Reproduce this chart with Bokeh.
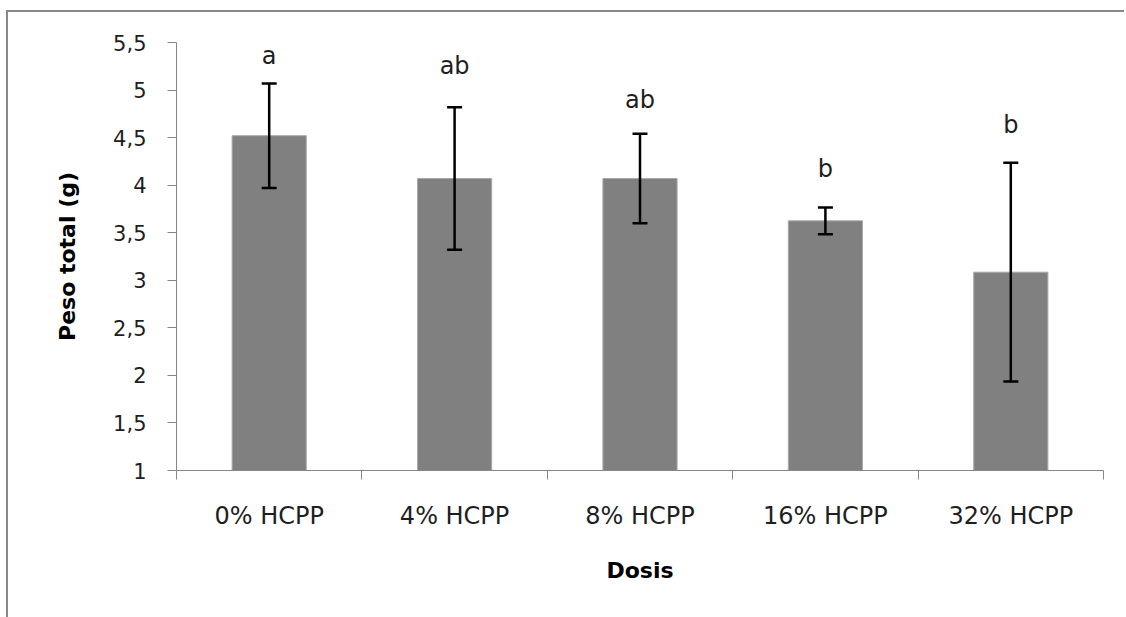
from bokeh.plotting import figure
from bokeh.models import Range1d, FixedTicker, ColumnDataSource, Whisker, TeeHead
from bokeh.core.properties import value
from bokeh.embed import file_html
from bokeh.resources import INLINE
import numpy as np

# Total weight per dose, with standard deviation and significance letters
categories = ["0% HCPP", "4% HCPP", "8% HCPP", "16% HCPP", "32% HCPP"]
means = [4.52, 4.07, 4.07, 3.625, 3.085]
errors = [0.55, 0.75, 0.47, 0.14, 1.15]
letters = ["a", "ab", "ab", "b", "b"]
letter_y = [5.27, 5.165, 4.81, 4.085, 4.545]

y_ticks = [1, 1.5, 2, 2.5, 3, 3.5, 4, 4.5, 5, 5.5]
y_tick_labels = ["1", "1,5", "2", "2,5", "3", "3,5", "4", "4,5", "5", "5,5"]

FONT = "DejaVu Sans"
AXIS_GREY = "#868686"
TEXT = "#1e1e1e"

x_pos = np.arange(len(categories)) + 0.5
src = ColumnDataSource(dict(
    x=x_pos,
    top=means,
    upper=np.array(means) + np.array(errors),
    lower=np.array(means) - np.array(errors),
    letter=letters,
    ly=letter_y,
))

# The chart area sits inside a frame whose left and top edges show
# (offset 6px / 10px, 2px grey line); the canvas starts just inside it.
p = figure(width=1118, height=609, output_backend="svg", toolbar_location=None,
           x_range=Range1d(0, len(categories)), y_range=Range1d(1, 5.5),
           min_border_left=168, min_border_right=23,
           min_border_top=30, min_border_bottom=151)
p.margin = (10, 0, 0, 6)
p.styles = {"border-left": "2px solid #888888", "border-top": "2px solid #888888"}
p.outline_line_color = None
p.grid.visible = False
p.background_fill_color = "white"
p.border_fill_color = "white"

# Bars start at the axis floor
p.vbar(x="x", top="top", bottom=1, width=0.4, source=src,
       fill_color="#808080", line_color="#a8a8a8", line_width=1)

# Error bars, drawn over the bars
whisk = Whisker(base="x", upper="upper", lower="lower", source=src,
                line_color="black", line_width=2.5, level="overlay",
                upper_head=TeeHead(size=15, line_width=2.5, line_color="black"),
                lower_head=TeeHead(size=15, line_width=2.5, line_color="black"))
p.add_layout(whisk)

# Significance letters
p.text(x="x", y="ly", text="letter", source=src, text_align="center",
       text_baseline="alphabetic", y_offset=-8, text_font=value(FONT),
       text_font_size="24px", text_color=TEXT)

# Y axis
ya = p.yaxis[0]
ya.ticker = FixedTicker(ticks=y_ticks, minor_ticks=[])
ya.major_label_overrides = {t: s for t, s in zip(y_ticks, y_tick_labels)}
ya.axis_line_color = AXIS_GREY
ya.major_tick_line_color = AXIS_GREY
ya.major_tick_out = 9
ya.major_tick_in = 0
ya.minor_tick_line_color = None
ya.major_label_standoff = 21
ya.major_label_text_font = FONT
ya.major_label_text_font_size = "21px"
ya.major_label_text_color = TEXT
ya.axis_label = "Peso total (g)"
ya.axis_label_text_font = FONT
ya.axis_label_text_font_style = "bold"
ya.axis_label_text_font_size = "22px"
ya.axis_label_text_color = "black"
ya.axis_label_standoff = 30

# X axis: labels at bar centres, ticks at category boundaries
xa = p.xaxis[0]
xa.ticker = FixedTicker(ticks=list(x_pos),
                        minor_ticks=list(range(len(categories) + 1)))
xa.major_label_overrides = {float(t): c for t, c in zip(x_pos, categories)}
xa.axis_line_color = AXIS_GREY
xa.major_tick_line_color = None
xa.major_tick_out = 0
xa.major_tick_in = 0
xa.minor_tick_line_color = AXIS_GREY
xa.minor_tick_out = 9
xa.minor_tick_in = 0
xa.major_label_standoff = 22
xa.major_label_text_font = FONT
xa.major_label_text_font_size = "24px"
xa.major_label_text_color = TEXT
xa.axis_label = "Dosis"
xa.axis_label_text_font = FONT
xa.axis_label_text_font_style = "bold"
xa.axis_label_text_font_size = "22px"
xa.axis_label_text_color = "black"
xa.axis_label_standoff = 25

open("out.html", "w").write(file_html(p, INLINE))
